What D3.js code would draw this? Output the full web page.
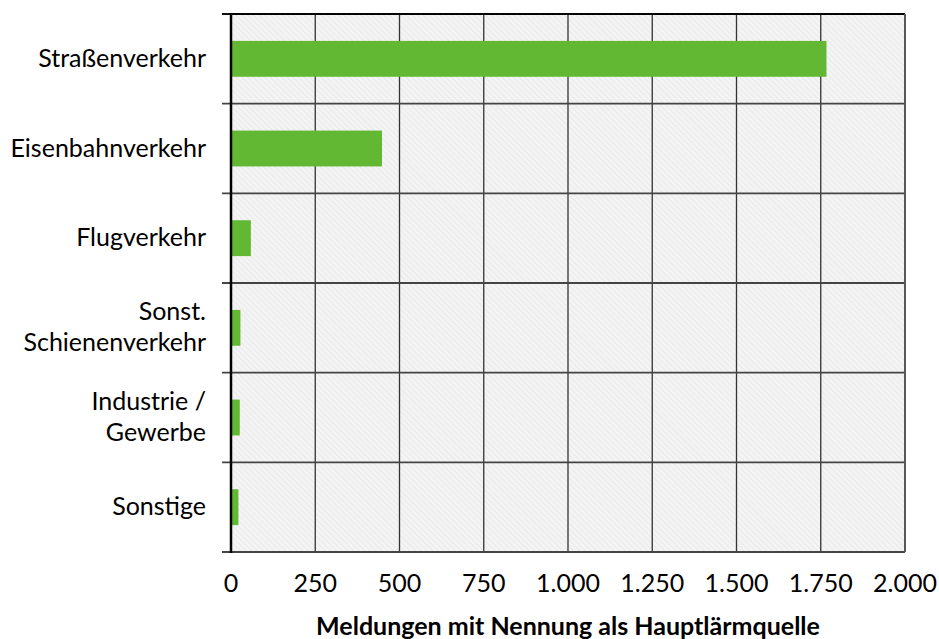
<!DOCTYPE html>
<html><head><meta charset="utf-8">
<script src="https://cdn.jsdelivr.net/npm/d3@7"></script>
<style>body{margin:0;background:#fff}svg{display:block}text{font-family:Lato,"Open Sans",sans-serif;fill:#000}</style>
</head><body><svg id="c" width="939" height="639"></svg>
<script>
const categories = [["Straßenverkehr"],["Eisenbahnverkehr"],["Flugverkehr"],["Sonst.","Schienenverkehr"],["Industrie /","Gewerbe"],["Sonstige"]];
const values = [1767, 448, 59, 28, 26, 22];
const ticks = [0,250,500,750,1000,1250,1500,1750,2000];
const tickLabels = ["0","250","500","750","1.000","1.250","1.500","1.750","2.000"];
const xTitle = "Meldungen mit Nennung als Hauptlärmquelle";

const svg = d3.select("#c");
const L=231,R=905,T=14,B=552;
const x = d3.scaleLinear().domain([0,2000]).range([L,R]);
const y = d3.scaleBand().domain(d3.range(categories.length)).range([T,B]).paddingInner(0.6).paddingOuter(0.3);
const band = (B-T)/categories.length;

const defs = svg.append("defs");
const p = defs.append("pattern").attr("id","hatch").attr("patternUnits","userSpaceOnUse").attr("width",4).attr("height",4).attr("patternTransform","rotate(-45)");
p.append("rect").attr("width",4).attr("height",4).attr("fill","#f4f4f4");
p.append("line").attr("x1",0).attr("y1",0).attr("x2",0).attr("y2",4).attr("stroke","#e2e2e2").attr("stroke-width",1.2);

svg.append("rect").attr("x",L).attr("y",T).attr("width",R-L).attr("height",B-T).attr("fill","url(#hatch)");

svg.append("g").selectAll("line").data(ticks.slice(1)).join("line")
  .attr("x1",d=>x(d)).attr("x2",d=>x(d)).attr("y1",T).attr("y2",B)
  .attr("stroke","#333").attr("stroke-width",1.3);
svg.append("g").selectAll("line").data(d3.range(categories.length+1)).join("line")
  .attr("x1",L-9).attr("x2",R).attr("y1",i=>T+i*band).attr("y2",i=>T+i*band)
  .attr("stroke",i=>i===0?"#111":"#444").attr("stroke-width",1.8);
svg.append("line").attr("x1",L).attr("x2",R).attr("y1",T).attr("y2",T).attr("stroke","#000").attr("stroke-width",1.5);
svg.append("line").attr("x1",R).attr("x2",R).attr("y1",T).attr("y2",B).attr("stroke","#555").attr("stroke-width",1.8);

svg.append("g").selectAll("rect").data(values).join("rect")
  .attr("x",x(0)+1).attr("y",(d,i)=>y(i)).attr("width",d=>x(d)-x(0)-1).attr("height",y.bandwidth())
  .attr("fill","#62b833");

svg.append("line").attr("x1",L).attr("x2",L).attr("y1",T-1).attr("y2",B+1).attr("stroke","#000").attr("stroke-width",2.5);

const lab = svg.append("g").selectAll("text").data(categories).join("text")
  .attr("text-anchor","end").attr("font-size",25)
  .attr("transform",(d,i)=>`translate(206,${T+band*(i+0.5)})`);
lab.each(function(lines){
  const t=d3.select(this);
  const n=lines.length;
  lines.forEach((s,k)=>t.append("tspan").attr("x",0).attr("y",(k-(n-1)/2)*31+8).text(s));
});

svg.append("g").selectAll("text").data(ticks).join("text")
  .attr("x",d=>x(d)).attr("y",592).attr("text-anchor","middle").attr("font-size",25)
  .text((d,i)=>tickLabels[i]);

svg.append("text").attr("x",568).attr("y",635).attr("text-anchor","middle").attr("font-size",25).attr("font-weight","bold").text(xTitle);
</script></body></html>
